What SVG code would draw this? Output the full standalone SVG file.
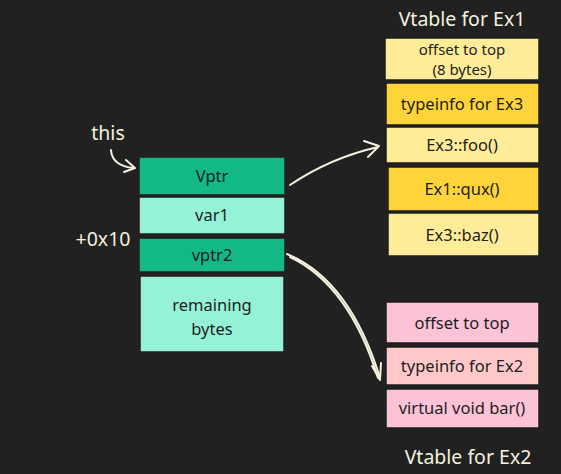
<svg xmlns="http://www.w3.org/2000/svg" width="561" height="474" viewBox="0 0 561 474">
<style>
.bx{stroke:#1e1e1e;stroke-width:1.5}
.t{font-family:"Noto Sans","Liberation Sans",sans-serif;font-size:16.5px;fill:#1e1e1e;text-anchor:middle}
.s{font-size:15px}
.lb{font-family:"Noto Sans","Liberation Sans",sans-serif;font-size:19.5px;fill:#f4f1de;text-anchor:middle}
.ar{fill:none;stroke:#f4f1de;stroke-width:2;stroke-linecap:round;stroke-linejoin:round}
</style>
<rect width="561" height="474" fill="#212121"/>
<g id="labels">
<text class="lb" x="108" y="140">this</text>
<text class="lb" x="103" y="246">+0x10</text>
<text class="lb" x="462" y="26">Vtable for Ex1</text>
<text class="lb" x="468" y="464">Vtable for Ex2</text>
</g>
<g id="node-vptr"><rect class="bx" x="139" y="157" width="146" height="38" fill="#12b886"/><text class="t" x="212" y="182">Vptr</text></g>
<g id="node-var1"><rect class="bx" x="139" y="197" width="146" height="37" fill="#96f2d7"/><text class="t" x="212" y="221">var1</text></g>
<g id="node-vptr2"><rect class="bx" x="139" y="238" width="146" height="34" fill="#12b886"/><text class="t" x="212" y="261">vptr2</text></g>
<g id="node-remaining"><rect class="bx" x="140" y="276" width="144" height="76" fill="#96f2d7"/><text class="t" x="212" y="311">remaining</text><text class="t" x="212" y="335">bytes</text></g>
<g id="node-ex1-offset"><rect class="bx" x="385" y="38" width="154" height="42" fill="#ffec99"/><text class="t s" x="462" y="55">offset to top</text><text class="t s" x="462" y="75">(8 bytes)</text></g>
<g id="node-ex1-typeinfo"><rect class="bx" x="386" y="83" width="153" height="42" fill="#ffd43b"/><text class="t" x="462" y="110">typeinfo for Ex3</text></g>
<g id="node-ex1-foo"><rect class="bx" x="386" y="127" width="153" height="36" fill="#ffec99"/><text class="t" x="462" y="151">Ex3::foo()</text></g>
<g id="node-ex1-qux"><rect class="bx" x="388" y="167" width="151" height="44" fill="#ffd43b"/><text class="t" x="462" y="195">Ex1::qux()</text></g>
<g id="node-ex1-baz"><rect class="bx" x="388" y="213" width="151" height="43" fill="#ffec99"/><text class="t" x="462" y="241">Ex3::baz()</text></g>
<g id="node-ex2-offset"><rect class="bx" x="386" y="302" width="153" height="41" fill="#fcc2d7"/><text class="t" x="462" y="329">offset to top</text></g>
<g id="node-ex2-typeinfo"><rect class="bx" x="386" y="347" width="153" height="38" fill="#ffc9c9"/><text class="t" x="462" y="372">typeinfo for Ex2</text></g>
<g id="node-ex2-bar"><rect class="bx" x="386" y="389" width="153" height="39" fill="#fcc2d7"/><text class="t" x="462" y="414">virtual void bar()</text></g>
<g id="connectors">
<path class="ar" d="M111 150 Q112 166 134 168"/>
<path class="ar" d="M126 160 L135 168 L124 172"/>
<path class="ar" d="M290 185 Q330 158 378 147"/>
<path class="ar" d="M364 141 L379 146 L368 157"/>
<path class="ar" d="M287 254 Q350 280 380 378"/>
<path class="ar" d="M290 257 Q349 285 378 378" stroke-width="1.5"/>
<path class="ar" d="M372 366 L380 380 L381 363"/>
</g>
</svg>
